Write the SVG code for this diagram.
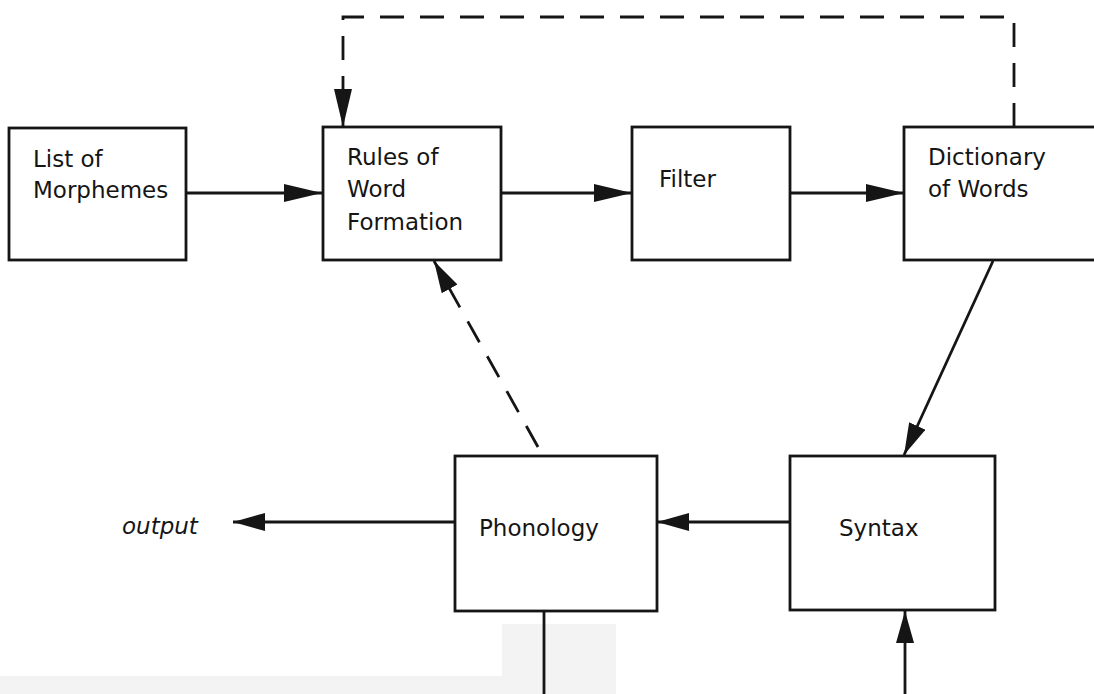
<svg xmlns="http://www.w3.org/2000/svg" width="1094" height="694" viewBox="0 0 1094 694">
  <style>
    .box { fill: #ffffff; stroke: #151515; stroke-width: 2.8; }
    .lbl { font-family: "DejaVu Sans", "Verdana", sans-serif; font-size: 23px; fill: #151515; }
    .ital { font-style: italic; }
    .wire { fill: none; stroke: #151515; stroke-width: 2.8; }
    .dash { stroke-dasharray: 24 16; }
    .haze { fill: #f3f3f3; }
  </style>
  <defs>
    <marker id="head-long" viewBox="0 0 38 18" markerWidth="38" markerHeight="18" refX="38" refY="9" orient="auto" markerUnits="userSpaceOnUse">
      <path d="M0,0 L38,9 L0,18 Z" fill="#151515"/>
    </marker>
    <marker id="head-short" viewBox="0 0 32 18" markerWidth="32" markerHeight="18" refX="32" refY="9" orient="auto" markerUnits="userSpaceOnUse">
      <path d="M0,0 L32,9 L0,18 Z" fill="#151515"/>
    </marker>
  </defs>

  <rect width="1094" height="694" fill="#ffffff"/>

  <!-- faint grey band along the lower edge -->
  <rect class="haze" x="0" y="676" width="502" height="18"/>
  <rect class="haze" x="502" y="624" width="114" height="70"/>

  <g id="connectors">
    <path class="wire" d="M186,193 H322" marker-end="url(#head-long)"/>
    <path class="wire" d="M501,193 H632" marker-end="url(#head-long)"/>
    <path class="wire" d="M790,193 H904" marker-end="url(#head-long)"/>
    <path class="wire" d="M993,261 L904,455" marker-end="url(#head-short)"/>
    <path class="wire" d="M790,522 H657" marker-end="url(#head-short)"/>
    <path class="wire" d="M455,522 H233" marker-end="url(#head-short)"/>
    <path class="wire" d="M544,611 V694"/>
    <path class="wire" d="M905,694 V611" marker-end="url(#head-short)"/>
    <path class="wire dash" d="M1014,127 V17 H343 V127" marker-end="url(#head-long)"/>
    <path class="wire dash" d="M538,447 L434,261" marker-end="url(#head-short)"/>
  </g>

  <g id="morphemes">
    <rect class="box" x="9" y="128" width="177" height="132"/>
    <text class="lbl" x="33" y="167">List of</text>
    <text class="lbl" x="33" y="198">Morphemes</text>
  </g>

  <g id="word-formation">
    <rect class="box" x="323" y="127" width="178" height="133"/>
    <text class="lbl" x="347" y="165">Rules of</text>
    <text class="lbl" x="347" y="197">Word</text>
    <text class="lbl" x="347" y="230">Formation</text>
  </g>

  <g id="filter">
    <rect class="box" x="632" y="127" width="158" height="133"/>
    <text class="lbl" x="659" y="187">Filter</text>
  </g>

  <g id="dictionary">
    <rect class="box" x="904" y="127" width="210" height="133"/>
    <text class="lbl" x="928" y="165">Dictionary</text>
    <text class="lbl" x="928" y="197">of Words</text>
  </g>

  <g id="phonology">
    <rect class="box" x="455" y="456" width="202" height="155"/>
    <text class="lbl" x="479" y="536">Phonology</text>
  </g>

  <g id="syntax">
    <rect class="box" x="790" y="456" width="205" height="154"/>
    <text class="lbl" x="839" y="536">Syntax</text>
  </g>

  <g id="output">
    <text class="lbl ital" x="122" y="534">output</text>
  </g>
</svg>
